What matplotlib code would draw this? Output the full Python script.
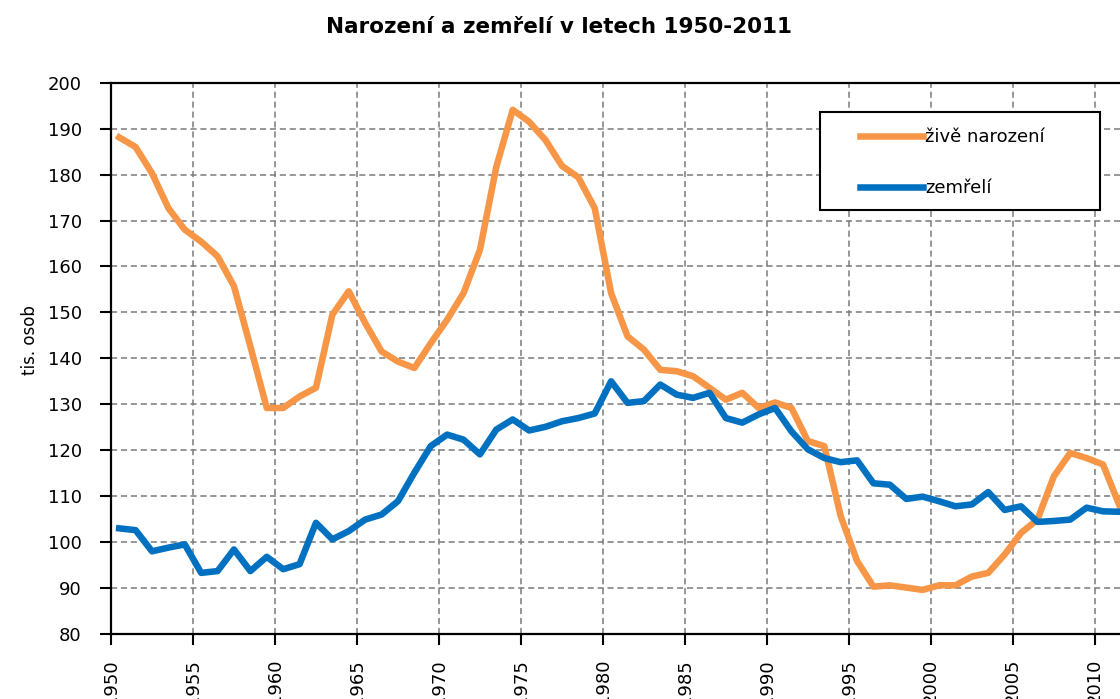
import matplotlib
matplotlib.use("Agg")
import matplotlib.pyplot as plt
from matplotlib.patches import Rectangle

# roky a hodnoty (tis. osob)
roky = list(range(1950, 2012))
narozeni = [188.1, 186.0, 180.3, 172.7, 168.0, 165.4, 162.2, 155.7, 142.6, 129.2,
            129.2, 131.7, 133.6, 149.5, 154.6, 147.7, 141.5, 139.3, 137.9, 143.3,
            148.4, 154.2, 163.6, 181.7, 194.1, 191.5, 187.5, 181.9, 179.4, 172.7,
            154.2, 144.8, 141.9, 137.5, 137.2, 136.1, 133.6, 131.0, 132.5, 129.2,
            130.4, 129.2, 122.0, 120.9, 105.7, 95.9, 90.3, 90.6, 90.1, 89.6,
            90.6, 90.6, 92.5, 93.3, 97.3, 102.0, 104.9, 114.3, 119.4, 118.3,
            116.9, 108.0]
zemreli = [103.0, 102.6, 98.0, 98.8, 99.5, 93.3, 93.7, 98.4, 93.7, 96.8,
           94.1, 95.2, 104.2, 100.6, 102.4, 104.9, 106.0, 108.9, 115.1, 120.9,
           123.4, 122.3, 119.1, 124.5, 126.7, 124.3, 125.1, 126.3, 127.0, 128.0,
           135.0, 130.3, 130.7, 134.3, 132.1, 131.4, 132.5, 127.0, 126.0, 127.8,
           129.2, 124.1, 120.2, 118.3, 117.4, 117.8, 112.8, 112.5, 109.4, 109.9,
           108.9, 107.8, 108.2, 110.9, 107.0, 107.8, 104.4, 104.6, 104.9, 107.5,
           106.7, 106.6]
popisky_x = list(range(1950, 2015, 5))
popisky_y = list(range(80, 201, 10))

W, H = 1120, 699
fig = plt.figure(figsize=(W / 100, H / 100), dpi=100)
ax = fig.add_axes([111 / W, (H - 634) / H, (1144 - 111) / W, (634 - 82.7) / H])

ax.plot(roky, narozeni, color="#F79646", lw=4.7, solid_joinstyle="round",
        label="živě narození", zorder=3)
ax.plot(roky, zemreli, color="#0070C0", lw=4.7, solid_joinstyle="round",
        label="zemřelí", zorder=3)

ax.set_xlim(1949.5, 2012.5)
ax.set_ylim(80, 200)
# popisky na hranicich kategorii (Excel styl)
ax.set_xticks([r - 0.5 for r in popisky_x])
ax.set_xticklabels([str(r) for r in popisky_x], rotation=90, va="top")
ax.set_yticks(popisky_y)
ax.tick_params(axis="y", length=8, width=1.5, pad=13, labelsize=13)
ax.tick_params(axis="x", length=8, width=1.5, pad=10, labelsize=13)

ax.grid(True, color="#7a7a7a", lw=1.1, linestyle=(0, (4, 2.5)))
ax.set_axisbelow(True)
for s in ["left", "bottom", "top"]:
    ax.spines[s].set_linewidth(1.6)
ax.spines["right"].set_visible(False)

fig.text(559 / W, 1 - 27 / H, "Narození a zemřelí v letech 1950-2011",
         ha="center", va="center", fontsize=15.5, fontweight="bold")
fig.text(30 / W, 1 - 340 / H, "tis. osob", rotation=90, ha="center",
         va="center", fontsize=12)

# ramecek legendy
ax.add_patch(Rectangle((820 / W, 1 - 210 / H), 280 / W, 98 / H,
                       transform=fig.transFigure, fill=True, fc="white",
                       ec="black", lw=1.5, zorder=4, clip_on=False))
leg = ax.legend(loc="upper left", bbox_to_anchor=(860 / W, 1 - 128 / H),
                bbox_transform=fig.transFigure, frameon=False, fontsize=13,
                handlelength=3.5, handletextpad=0.12, borderpad=0,
                borderaxespad=0, labelspacing=1.85)
leg.set_zorder(5)

fig.savefig("out.png", dpi=100)
